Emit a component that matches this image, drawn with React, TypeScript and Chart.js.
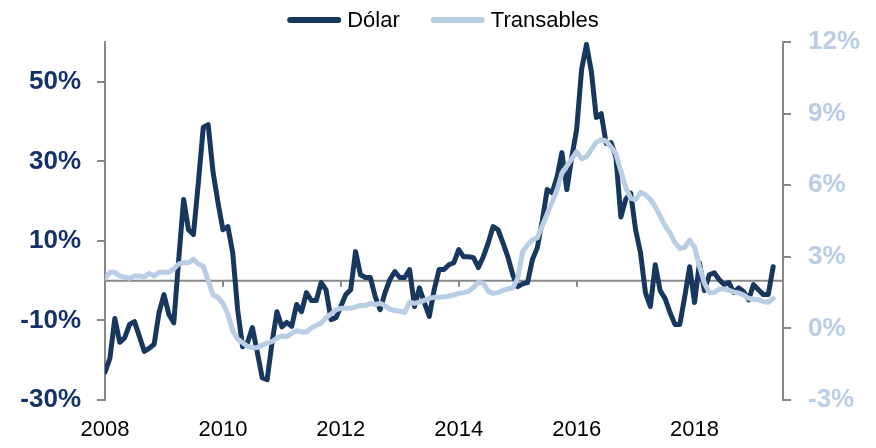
import React, { useEffect, useRef } from 'react';
import { Chart, registerables } from 'chart.js';

Chart.register(...registerables);

// Monthly series, index 0 = Jan 2008
const startYear = 2008;
const seriesNames = ['Dólar', 'Transables'];

const dolar = [
  -23, -19.5, -9.5, -15.5, -14.4, -11, -10.3, -14, -17.8, -17, -16, -8,
  -3.5, -8.5, -10.6, 5.3, 20.4, 12.8, 11.6, 24.6, 38.5, 39.2, 27.2, 19.6,
  12.8, 13.6, 7, -7.3, -16.6, -15.6, -11.8, -18, -24.4, -24.9, -15.6, -7.8,
  -11.6, -10.5, -11.5, -6, -7.8, -3, -5, -5, -0.5, -2.3, -9.8, -9.3,
  -6.5, -3.5, -2.3, 7.3, 1.5, 0.8, 0.8, -4, -7.3, -3, 0.3, 2.3,
  0.8, 0.8, 2.8, -6.5, -1.8, -5.5, -9, -2.3, 2.8, 2.8, 4, 4.5,
  7.8, 6, 6, 5.8, 3.3, 6, 9.5, 13.6, 12.8, 9.5, 6, 1.5,
  -1.5, -0.8, -0.5, 5.3, 8.3, 15, 22.9, 22.1, 26, 32.2, 22.9, 31,
  38, 53, 59.4, 52.5, 41, 42, 34.5, 34.7, 31, 16, 20.5, 22,
  12.8, 7, -3, -6.5, 4, -2.5, -4.5, -8, -11, -11, -4, 3.5,
  -5.5, 4.5, -2.5, 1.5, 2, 0.3, -1, -0.5, -3, -1.8, -2.8, -4.8,
  -1, -2.3, -3.5, -3.5, 3.5,
];

const transables = [
  2.1, 2.35, 2.35, 2.2, 2.15, 2.1, 2.2, 2.2, 2.15, 2.3, 2.2, 2.35,
  2.35, 2.35, 2.5, 2.7, 2.75, 2.75, 2.9, 2.7, 2.6, 2.0, 1.4, 1.3,
  1.05, 0.6, -0.1, -0.45, -0.6, -0.75, -0.82, -0.8, -0.7, -0.62, -0.55, -0.4,
  -0.32, -0.35, -0.2, -0.1, -0.15, -0.15, 0.02, 0.13, 0.22, 0.45, 0.6, 0.78,
  0.84, 0.84, 0.84, 0.9, 0.96, 0.96, 1.05, 1.0, 1.05, 0.95, 0.8, 0.75,
  0.72, 0.67, 1.1, 1.05, 1.1, 1.17, 1.26, 1.3, 1.3, 1.33, 1.36, 1.4,
  1.47, 1.5, 1.55, 1.72, 1.93, 1.89, 1.55, 1.47, 1.5, 1.6, 1.65, 1.7,
  2.1, 3.2, 3.5, 3.7, 3.8, 4.3, 4.8, 5.3, 5.8, 6.5, 6.8, 7.1,
  7.4, 7.1, 7.2, 7.5, 7.8, 7.9, 7.85, 7.6, 7.3, 6.6, 5.9, 5.45,
  5.4, 5.7, 5.6, 5.4, 5.1, 4.7, 4.3, 4.0, 3.6, 3.35, 3.4, 3.7,
  3.4, 2.6, 1.9, 1.5, 1.5, 1.65, 1.65, 1.6, 1.52, 1.48, 1.4, 1.26,
  1.22, 1.2, 1.12, 1.1, 1.25,
];

const xTickYears = [2008, 2010, 2012, 2014, 2016, 2018];
const leftTicks = [-30, -10, 10, 30, 50];
const rightTicks = [-3, 0, 3, 6, 9, 12];

const FONT = '"Liberation Sans", Arial, Helvetica, sans-serif';
const NAVY = '#17375E';
const LIGHT = '#B9CDE5';
const GRAY = '#888888';

const zeroLinePlugin = {
  id: 'zeroLine',
  beforeDatasetsDraw(chart: any) {
    const { ctx, chartArea } = chart;
    const yS = chart.scales.yL;
    const xS = chart.scales.x;
    const y = yS.getPixelForValue(0);
    ctx.save();
    ctx.strokeStyle = GRAY;
    ctx.lineWidth = 2;
    ctx.beginPath();
    ctx.moveTo(chartArea.left, y);
    ctx.lineTo(chartArea.right, y);
    xS.ticks.forEach((t: any) => {
      const x = Math.round(xS.getPixelForValue(t.value));
      ctx.moveTo(x, y);
      ctx.lineTo(x, y + 6);
    });
    ctx.stroke();
    ctx.restore();
  },
};

const legendPlugin = {
  id: 'customLegend',
  afterDraw(chart: any) {
    const { ctx } = chart;
    const lineLen = 54;
    const gap = 6;
    const spacing = 31;
    ctx.save();
    ctx.font = `22px ${FONT}`;
    ctx.textBaseline = 'middle';
    ctx.textAlign = 'left';
    const items = chart.data.datasets.map((d: any) => ({
      text: d.label,
      color: d.borderColor,
      w: ctx.measureText(d.label).width,
    }));
    const total = items.reduce((s: number, it: any) => s + lineLen + gap + it.w, 0) + spacing * (items.length - 1);
    let x = 443 - total / 2;
    const y = 20;
    items.forEach((it: any) => {
      ctx.strokeStyle = it.color;
      ctx.lineWidth = 6;
      ctx.lineCap = 'round';
      ctx.beginPath();
      ctx.moveTo(x + 3, y);
      ctx.lineTo(x + lineLen - 3, y);
      ctx.stroke();
      ctx.fillStyle = '#000000';
      ctx.fillText(it.text, x + lineLen + gap, y + 1);
      x += lineLen + gap + it.w + spacing;
    });
    ctx.restore();
  },
};

export default function App() {
  const canvasRef = useRef<HTMLCanvasElement | null>(null);

  useEffect(() => {
    if (!canvasRef.current) return;
    const dolarPts = dolar.map((v, i) => ({ x: i, y: v }));
    const transPts = transables.map((v, i) => ({ x: i, y: v }));
    const chart = new Chart(canvasRef.current, {
      type: 'line',
      data: {
        datasets: [
          {
            label: seriesNames[0],
            data: dolarPts,
            yAxisID: 'yL',
            borderColor: NAVY,
            backgroundColor: NAVY,
            borderWidth: 5,
            pointRadius: 0,
            tension: 0,
            borderCapStyle: 'round',
            borderJoinStyle: 'round',
            order: 1,
          },
          {
            label: seriesNames[1],
            data: transPts,
            yAxisID: 'yR',
            borderColor: LIGHT,
            backgroundColor: LIGHT,
            borderWidth: 5,
            pointRadius: 0,
            tension: 0,
            borderCapStyle: 'round',
            borderJoinStyle: 'round',
            order: 0,
          },
        ],
      },
      options: {
        animation: false,
        responsive: true,
        maintainAspectRatio: false,
        layout: { padding: { top: 42, left: 0, right: 0, bottom: 0 } },
        plugins: {
          legend: { display: false },
          tooltip: { enabled: false },
        },
        scales: {
          x: {
            type: 'linear',
            min: 0,
            max: 138,
            afterBuildTicks: (s: any) => {
              s.ticks = xTickYears.map((yr) => ({ value: (yr - startYear) * 12 }));
            },
            afterFit: (s: any) => {
              s.height = 48;
            },
            grid: { display: false, drawTicks: false },
            border: { display: false },
            ticks: {
              padding: 17,
              color: '#000000',
              font: { family: FONT, size: 22 },
              maxRotation: 0,
              autoSkip: false,
              callback: (v: any) => String(startYear + Math.round(Number(v) / 12)),
            },
          },
          yL: {
            type: 'linear',
            position: 'left',
            min: -30,
            max: 60,
            afterBuildTicks: (s: any) => {
              s.ticks = leftTicks.map((v) => ({ value: v }));
            },
            afterFit: (s: any) => {
              s.width = 105;
            },
            grid: { drawOnChartArea: false, drawTicks: true, tickLength: 8, color: GRAY, lineWidth: 2 },
            border: { display: true, color: GRAY, width: 2 },
            ticks: {
              padding: 16,
              color: '#16326B',
              font: { family: FONT, size: 26, weight: 'bold' },
              callback: (v: any) => `${v}%`,
            },
          },
          yR: {
            type: 'linear',
            position: 'right',
            min: -3,
            max: 12,
            afterBuildTicks: (s: any) => {
              s.ticks = rightTicks.map((v) => ({ value: v }));
            },
            afterFit: (s: any) => {
              s.width = 93;
            },
            grid: { drawOnChartArea: false, drawTicks: true, tickLength: 8, color: GRAY, lineWidth: 2 },
            border: { display: true, color: GRAY, width: 2 },
            ticks: {
              padding: 17,
              color: LIGHT,
              font: { family: FONT, size: 26, weight: 'bold' },
              callback: (v: any) => `${v}%`,
            },
          },
        },
      },
      plugins: [zeroLinePlugin, legendPlugin],
    } as any);
    return () => chart.destroy();
  }, []);

  return (
    <div style={{ position: 'absolute', left: 0, top: 0, width: 876, height: 448, background: '#ffffff' }}>
      <canvas ref={canvasRef} />
    </div>
  );
}
